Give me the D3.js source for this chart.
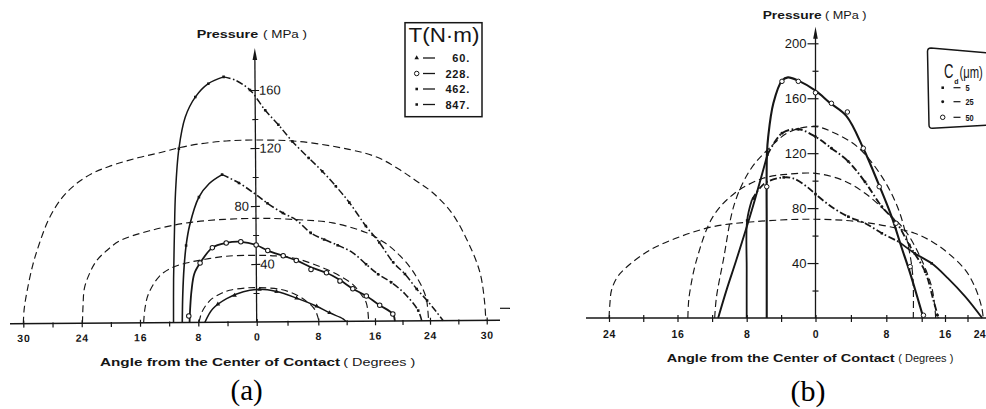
<!DOCTYPE html>
<html>
<head>
<meta charset="utf-8">
<script src="https://cdn.jsdelivr.net/npm/d3@7/dist/d3.min.js"></script>
<style>
  html, body { margin: 0; padding: 0; background: #fff; }
  svg { display: block; }
</style>
</head>
<body>
<svg id="fig" width="986" height="409"></svg>
<script>
// Contact pressure around a pin joint, plotted against the angle from the centre of contact.
// Every case has a dashed analytical profile and a measured profile carrying markers.
// Points are [angle (deg), pressure (MPa)].

// ---------- (a) applied torque T (N·m) ----------
const torqueNames = ["60.", "228.", "462.", "847."];
const angleTicksA = [-30, -24, -16, -8, 0, 8, 16, 24, 30];
const angleMinorA = [-27, -20, -12, -4, 4, 12, 20, 27];
const pressureTicksA = [40, 80, 120, 160];
const pressureMinorA = [20, 60, 100, 140];

const hertzT60 = [[-7.9,0],[-7.5,7],[-6.4,15],[-5,19.5],[-3.7,22],[-1.5,23.5],[0,23.7],[3,22.5],[5,19],[6.5,14],[7.6,8],[8.1,0]];
const hertzT228 = [[-15.5,0],[-15.3,10],[-14.8,20],[-13.3,32],[-11.5,38],[-9.6,41],[-7,43.5],[-4.1,45.5],[0,46],[2.5,45.5],[4.8,44],[7,40.5],[9.2,36],[11.2,31],[12.9,25.5],[14,19],[14.8,12.5],[15.1,0]];
const hertzT462 = [[-23.9,0],[-23.8,12],[-23.6,24],[-22.9,34],[-21.9,43],[-20.5,50],[-18.7,56.6],[-14.6,63.4],[-8.7,69.2],[0,71.5],[5.6,70.3],[10.1,68],[14.8,61.2],[17.5,54],[19.2,47.4],[21,38],[22,31],[23,22],[23.5,15],[23.7,7],[23.8,0]];
const hertzT847 = [[-30,0],[-29.9,10],[-29.6,22],[-29,40],[-28.3,55],[-27.3,72],[-26,86],[-24.5,96],[-22.5,103],[-20.1,108],[-16,114],[-13.3,117],[-10.5,120.5],[-7.8,123],[-4,125],[0,125.5],[5.6,124.3],[12.5,118.6],[16.5,113],[19.6,104.8],[22,97],[24.3,88.8],[26.3,75],[27.9,56.6],[29.3,33.6],[29.8,12],[29.9,0]];

const measT60 = [[-7.1,0],[-6.6,5],[-6,9.4],[-4.1,16.3],[-1.8,20.9],[0.4,22.5],[2.6,20.9],[5.2,16.3],[7.8,10.6],[9.6,6],[11.5,1.8],[11.9,0]];
const markT60 = [[-5.3,12.5],[-3,18.5],[0.4,22.5],[2.6,20.9],[5.2,16.3],[7.8,10.6],[9.6,6]];
const measT228 = [[-9.2,0],[-9.1,10],[-8.9,22],[-8.5,33.6],[-7.7,40.9],[-6,51.5],[-4.1,54.7],[-2.1,55.4],[0,53.1],[1.5,49.2],[3.5,45.5],[5.2,42.3],[7.1,37.5],[9.2,33.6],[11.1,28.5],[12.9,22.5],[14.8,17.4],[16.7,11],[18.6,4.8],[18.9,0]];
const markT228 = [[-9.3,4.5],[-7.7,40.9],[-6,51.5],[-4.1,54.7],[-2.1,55.4],[0,53.1],[1.5,49.2],[3.5,45.5],[5.2,42.3],[7.1,35.9],[9.2,33.6],[11.1,27.8],[12.9,22.5],[14.8,17.4],[16.7,11],[18.6,4.8]];
const measT462 = [[-10.2,0],[-10.1,20],[-9.9,38],[-9.6,53.1],[-9.1,66.9],[-7.8,86.4],[-6.4,95.6],[-4.6,101.8],[-2.3,96],[-0.2,88.7],[1.5,81.8],[3.5,75],[5.2,70.3],[7.1,61.2],[8.9,56.6],[10.8,52.6],[12.9,47.4],[14.8,39.3],[16.5,32.4],[18.4,26.7],[20.4,18.6],[22.3,7.1],[22.8,0]];
const markT462 = [[-9.6,53.1],[-7.8,86.4],[-4.6,101.8],[-2.3,96],[1.5,81.8],[3.5,75],[7.1,61.2],[8.9,56.6],[10.8,52.6],[14.8,39.3],[16.5,32.4],[18.4,26.7],[22.3,7.1]];
const measT847 = [[-11.4,0],[-11.35,30],[-11.2,60],[-11,90],[-10.5,119.8],[-9.6,141.6],[-8.2,155.4],[-6.4,164.6],[-4.3,169.2],[-2.7,166.9],[-0.7,160],[1.3,146],[3,135.9],[4.8,124.3],[6.9,112.9],[8.7,103.7],[10.6,93.3],[12.5,81.9],[14.8,65.7],[16.7,54.3],[18.7,40.5],[20.4,32.4],[22.1,22],[23.6,14],[24.7,6],[25.4,0]];
const markT847 = [[-10.5,119.8],[-8.2,155.4],[-6.4,164.6],[-4.3,169.2],[-0.7,160],[1.3,146],[3,135.9],[4.8,124.3],[6.9,112.9],[8.7,103.7],[10.6,93.3],[12.5,81.9],[14.8,65.7],[16.7,54.3],[18.7,40.5],[20.4,32.4],[22.1,22],[23.6,14]];

// ---------- (b) diametral clearance Cd (µm) ----------
const clearanceNames = ["5", "25", "50"];
const angleTicksB = [-24, -16, -8, 0, 8, 16, 24];
const angleMinorB = [-20, -12, -4, 4, 12, 20];
const pressureTicksB = [40, 80, 120, 160, 200];
const pressureMinorB = [20, 60, 100, 140, 180];

const hertzC5 = [[-24,0],[-23.9,10],[-23.7,20.4],[-23,30],[-21.9,37.3],[-19.2,49.5],[-15.7,59.2],[-11.9,66.5],[-7.2,70.1],[0,71.9],[5.8,69.4],[11.2,61.7],[14,55],[16.6,47.1],[19.6,35],[21.3,22.8],[22.5,8.2],[22.8,0]];
const hertzC25 = [[-14.8,0],[-14.75,9],[-14.6,18],[-13.8,42.2],[-11.9,73.8],[-9.4,90.8],[-6.1,101.7],[-3,104.8],[0,105.3],[3,100.5],[5.6,90.8],[8.2,76.2],[10.1,64],[12,42.2],[13.7,22.8],[14.2,10],[14.4,0]];
const hertzC50 = [[-11.7,0],[-11.5,15],[-10.7,42.2],[-9.4,83.5],[-7.6,107.8],[-5.6,122.3],[-3,135.6],[0,139.3],[2.2,134.5],[4.8,124.3],[7.5,102.9],[9.4,78.6],[10.5,51.9],[11,30.1],[11.05,0]];

const measC5 = [[-8,0],[-8,35],[-7.95,71],[-7.4,85.9],[-6.5,94.4],[-5.6,99.2],[-3.7,102.4],[-2.6,101.7],[-1,95.6],[0,90.2],[1.8,81],[3.7,73.8],[5.6,69],[7.5,61.7],[9.4,55.6],[11.2,47.1],[13.7,39.8],[16.5,29],[19.6,15.5],[22.6,0]];
const markC5 = [[-7.95,71],[-7.2,87],[-3.7,102.4],[0,90.2],[3.7,73.8],[7.5,61.7],[11.2,47.1],[13.7,39.8]];
const measC25 = [[-11.3,0],[-10.3,21],[-9.2,42.2],[-7.4,78.6],[-5.6,118.7],[-3.9,134.5],[-2,137.4],[0,132],[1.8,123.6],[3.7,114],[5.6,99],[7.5,81],[9.2,69],[10.6,53.1],[12.6,33.7],[14,13.1],[14.85,0]];
const markC25 = [[-5.6,118.7],[-3.9,134.5],[-2,137.4],[0,132],[1.8,123.6],[3.7,114],[5.6,99],[7.5,81],[9.2,69],[10.6,53.1],[12.6,33.7],[14.7,2]];
const measC50 = [[-5.67,0],[-5.67,60],[-5.65,119],[-5.5,132],[-4.9,156.3],[-3.9,172.8],[-3.2,175.2],[-2,172.8],[0,165.5],[1.6,156.8],[3.5,147],[5.4,123.6],[7.1,98],[8.6,73.8],[9.7,51.9],[10.7,32.5],[11.6,13.1],[12.3,0]];
const markC50 = [[-5.67,95.6],[-3.9,172.3],[-2,172.3],[0,164],[1.8,156.3],[3.6,150],[5.4,123.6],[7.2,95.6],[9.1,69],[10.7,37.4],[12.3,2]];

// ---------- drawing ----------
const ink = "#161616";
const svg = d3.select("#fig");
const smooth = d3.curveCatmullRom.alpha(0.5);
const SANS = "'Liberation Sans', Arial, Helvetica, sans-serif";
const SERIF = "'Liberation Serif', 'Times New Roman', serif";
const DASHED = "7,4";
const DASHDOT = "7,2.5,1.6,2.5";

const seriesA = [
  { name: torqueNames[0], hertz: hertzT60,  meas: measT60,  marks: markT60,  marker: "triangle", width: 1.5 },
  { name: torqueNames[1], hertz: hertzT228, meas: measT228, marks: markT228, marker: "ring",     width: 1.8 },
  { name: torqueNames[2], hertz: hertzT462, meas: measT462, marks: markT462, marker: "square",   width: 1.6, dashFrom: -4.6 },
  { name: torqueNames[3], hertz: hertzT847, meas: measT847, marks: markT847, marker: "square",   width: 1.5, dashFrom: -4.3 }
];
const seriesB = [
  { name: clearanceNames[0], hertz: hertzC5,  meas: measC5,  marks: markC5,  marker: "square", width: 1.8, dashFrom: -7.4, dashTo: 9.4 },
  { name: clearanceNames[1], hertz: hertzC25, meas: measC25, marks: markC25, marker: "dot",    width: 1.9, dashFrom: -5.6 },
  { name: clearanceNames[2], hertz: hertzC50, meas: measC50, marks: markC50, marker: "ring",   width: 2.1 }
];

function markerPath(kind) {
  if (kind === "triangle") return d3.symbol(d3.symbolTriangle, 9)();
  if (kind === "square") return d3.symbol(d3.symbolSquare, 6.5)();
  if (kind === "dot") return d3.symbol(d3.symbolCircle, 7)();
  return d3.symbol(d3.symbolCircle, 16)();
}

function drawMarker(g, kind, cx, cy) {
  g.append("path")
    .attr("d", markerPath(kind))
    .attr("transform", `translate(${cx},${cy})`)
    .attr("fill", kind === "ring" ? "#fff" : ink)
    .attr("stroke", kind === "ring" ? ink : "none")
    .attr("stroke-width", 1);
}

// split a profile into solid and dash-dot stretches
function pieces(pts, from, to) {
  if (from === undefined) return [{ pts, dashed: false }];
  const i0 = pts.findIndex(d => d[0] >= from);
  const i1 = to === undefined ? pts.length - 1 : pts.findIndex(d => d[0] >= to);
  const out = [];
  if (i0 > 0) out.push({ pts: pts.slice(0, i0 + 1), dashed: false });
  out.push({ pts: pts.slice(i0, i1 + 1), dashed: true });
  if (i1 < pts.length - 1) out.push({ pts: pts.slice(i1), dashed: false });
  return out;
}

function drawCurves(g, x, y, series) {
  const line = d3.line().x(d => x(d[0])).y(d => y(d[1])).curve(smooth);
  series.forEach(s => {
    g.append("path").attr("d", line(s.hertz))
      .attr("fill", "none").attr("stroke", ink).attr("stroke-width", 1.15)
      .attr("stroke-dasharray", DASHED);
  });
  series.forEach(s => {
    pieces(s.meas, s.dashFrom, s.dashTo).forEach(p => {
      g.append("path").attr("d", line(p.pts))
        .attr("fill", "none").attr("stroke", ink).attr("stroke-width", s.width)
        .attr("stroke-linejoin", "round")
        .attr("stroke-dasharray", p.dashed ? DASHDOT : null);
    });
    s.marks.forEach(d => drawMarker(g, s.marker, x(d[0]), y(d[1])));
  });
}

function styleTicks(sel, size, font) {
  sel.select(".domain").remove();
  sel.attr("font-family", null).attr("font-size", null);
  sel.selectAll(".tick line").attr("stroke", ink).attr("stroke-width", 1.2);
  sel.selectAll(".tick text").attr("fill", ink)
    .style("font-family", SANS).style("font-size", size + "px").style("font-weight", font);
}

function arrowUp(g, x0, tip) {
  g.append("path")
    .attr("d", `M${x0},${tip} L${x0 - 2.3},${tip + 12} L${x0 + 2.3},${tip + 12} Z`)
    .attr("fill", ink);
}

function titleRun(g, x, y, str, size, weight, len) {
  return g.append("text").attr("x", x).attr("y", y).text(str)
    .attr("fill", ink).style("font-family", SANS).style("font-size", size + "px")
    .style("font-weight", weight)
    .attr("textLength", len).attr("lengthAdjust", "spacingAndGlyphs");
}

// narrow lettering: squeeze horizontally with a transform
function narrowText(g, x, y, str, size, squeeze, weight) {
  return g.append("text").attr("transform", `translate(${x},${y}) scale(${squeeze},1)`).text(str)
    .attr("fill", ink).style("font-family", SANS).style("font-size", size + "px")
    .style("font-weight", weight || "normal");
}

// ================= panel (a) =================
const xA = d3.scaleLinear().domain(angleTicksA).range([23.3, 81.7, 140, 198.3, 256.7, 318.3, 375, 430, 486.7]);
const yA = d3.scaleLinear().domain([0, 160]).range([322, 90]);
const gA = svg.append("g").attr("transform", `rotate(-0.4 ${xA(0)} ${yA(0)})`);

gA.append("line").attr("x1", 10).attr("x2", 500).attr("y1", yA(0)).attr("y2", yA(0))
  .attr("stroke", ink).attr("stroke-width", 1.6);

gA.append("g").attr("transform", `translate(0,${yA(0)})`)
  .call(d3.axisBottom(xA).tickValues(angleTicksA).tickFormat(d => Math.abs(d))
    .tickSizeInner(4).tickSizeOuter(0).tickPadding(7))
  .call(s => styleTicks(s, 10.5, "bold"))
  .call(s => s.selectAll(".tick line").attr("y1", -3))
  .call(s => s.selectAll(".tick text").style("letter-spacing", "0.8px"));

gA.append("g").attr("transform", `translate(0,${yA(0)})`)
  .call(d3.axisBottom(xA).tickValues(angleMinorA).tickFormat("").tickSizeInner(4).tickSizeOuter(0))
  .call(s => styleTicks(s, 10, "normal"))
  .call(s => s.selectAll(".tick line").attr("y1", -1));

// vertical pressure axis
const tipA = 48;
gA.append("line").attr("x1", xA(0)).attr("x2", xA(0)).attr("y1", yA(0)).attr("y2", tipA + 6)
  .attr("stroke", ink).attr("stroke-width", 1.3);
arrowUp(gA, xA(0), tipA);

gA.append("g").attr("transform", `translate(${xA(0)},0)`)
  .call(d3.axisRight(yA).tickValues(pressureTicksA).tickSizeInner(4).tickSizeOuter(0).tickPadding(0))
  .call(s => styleTicks(s, 13, "normal"))
  .call(s => s.selectAll(".tick line").attr("x1", -5))
  .call(s => s.selectAll(".tick text").filter(d => d === 80).attr("x", -7).attr("text-anchor", "end"));

gA.append("g").attr("transform", `translate(${xA(0)},0)`)
  .call(d3.axisRight(yA).tickValues(pressureMinorA).tickFormat("").tickSizeInner(3).tickSizeOuter(0))
  .call(s => styleTicks(s, 10, "normal"))
  .call(s => s.selectAll(".tick line").attr("x1", -3));

drawCurves(gA, xA, yA, seriesA);

// titles (a)
titleRun(svg, 196.7, 38.3, "Pressure", 10.8, "bold", 61.5);
titleRun(svg, 263, 38.3, "( MPa )", 10, "normal", 44);
titleRun(svg, 100, 365.5, "Angle from the Center of Contact", 10.8, "bold", 240);
titleRun(svg, 343.3, 365.5, "( Degrees )", 10, "normal", 72);
svg.append("text").attr("x", 246.7).attr("y", 400).attr("text-anchor", "middle").text("(a)")
  .attr("fill", "#000").style("font-family", SERIF).style("font-size", "29px");

// legend (a)
const legA = svg.append("g");
legA.append("rect").attr("x", 405).attr("y", 22.7).attr("width", 77).attr("height", 94)
  .attr("fill", "none").attr("stroke", ink).attr("stroke-width", 1.5);
titleRun(legA, 408.5, 41.5, "T(N·m)", 20, "normal", 71);
seriesA.forEach((s, i) => {
  const ly = 58 + i * 15.5;
  drawMarker(legA, s.marker, 416.7, ly);
  legA.append("line").attr("x1", 423).attr("x2", 435).attr("y1", ly).attr("y2", ly)
    .attr("stroke", ink).attr("stroke-width", 1.3);
  legA.append("text").attr("x", 470).attr("y", ly + 4).attr("text-anchor", "end").text(s.name)
    .attr("fill", ink).style("font-family", SANS).style("font-size", "11px").style("font-weight", "bold")
    .style("letter-spacing", "0.8px");
});

// ================= panel (b) =================
const xB = d3.scaleLinear().domain([-24, -16, -8, 0, 8, 12, 16, 24]).range([609, 677.5, 746.7, 815.5, 886.3, 921.7, 945, 990]);
const yB = d3.scaleLinear().domain([0, 200]).range([318, 43.3]);
const gB = svg.append("g");

gB.append("line").attr("x1", 586).attr("x2", 986).attr("y1", yB(0)).attr("y2", yB(0))
  .attr("stroke", ink).attr("stroke-width", 1.6);

gB.append("g").attr("transform", `translate(0,${yB(0)})`)
  .call(d3.axisBottom(xB).tickValues(angleTicksB).tickFormat(d => Math.abs(d))
    .tickSizeInner(4).tickSizeOuter(0).tickPadding(9))
  .call(s => styleTicks(s, 10.5, "bold"))
  .call(s => s.selectAll(".tick line").attr("y1", -3))
  .call(s => s.selectAll(".tick text").style("letter-spacing", "0.6px"))
  // the last label sits against the page edge
  .call(s => s.selectAll(".tick text").filter(d => d === 24)
    .attr("text-anchor", "end").attr("x", -5).style("letter-spacing", "0px"));

gB.append("g").attr("transform", `translate(0,${yB(0)})`)
  .call(d3.axisBottom(xB).tickValues(angleMinorB).tickFormat("").tickSizeInner(4).tickSizeOuter(0))
  .call(s => styleTicks(s, 10, "normal"))
  .call(s => s.selectAll(".tick line").attr("y1", -3));

const tipB = 26.7;
gB.append("line").attr("x1", xB(0)).attr("x2", xB(0)).attr("y1", yB(0)).attr("y2", tipB + 6)
  .attr("stroke", ink).attr("stroke-width", 1.3);
arrowUp(gB, xB(0), tipB);

gB.append("g").attr("transform", `translate(${xB(0)},0)`)
  .call(d3.axisLeft(yB).tickValues(pressureTicksB).tickSizeInner(8).tickSizeOuter(0).tickPadding(1))
  .call(s => styleTicks(s, 13, "normal"))
  .call(s => s.selectAll(".tick line").attr("x1", 3));

gB.append("g").attr("transform", `translate(${xB(0)},0)`)
  .call(d3.axisLeft(yB).tickValues(pressureMinorB).tickFormat("").tickSizeInner(3).tickSizeOuter(0))
  .call(s => styleTicks(s, 10, "normal"))
  .call(s => s.selectAll(".tick line").attr("x1", 3));

drawCurves(gB, xB, yB, seriesB);

// titles (b)
titleRun(svg, 762.7, 19.3, "Pressure", 10.8, "bold", 59);
titleRun(svg, 825, 19.3, "( MPa )", 10, "normal", 41.5);
titleRun(svg, 666.7, 362, "Angle from the Center of Contact", 10.8, "bold", 228);
titleRun(svg, 898.3, 362, "( Degrees )", 10, "normal", 55);
svg.append("text").attr("x", 808).attr("y", 401).attr("text-anchor", "middle").text("(b)")
  .attr("fill", "#000").style("font-family", SERIF).style("font-size", "30px");

// legend (b): its frame runs off the right edge
const legB = svg.append("g");
legB.append("path").attr("d", "M990,53 L931,48 Q927.5,48 927.5,51.5 L929,125 Q929,128.5 932.5,128.3 L990,125")
  .attr("fill", "none").attr("stroke", ink).attr("stroke-width", 1.5);
narrowText(legB, 944, 78.3, "C", 21, 0.62);
narrowText(legB, 954.3, 84, "d", 7, 1, "bold");
narrowText(legB, 959.5, 77.5, "(μm)", 17, 0.66);
seriesB.forEach((s, i) => {
  const ly = [87.7, 101.7, 117.3][i];
  drawMarker(legB, s.marker, 942.7, ly);
  legB.append("line").attr("x1", 953.5).attr("x2", 960.5).attr("y1", ly).attr("y2", ly)
    .attr("stroke", ink).attr("stroke-width", 1.2);
  narrowText(legB, 965.5, ly + 3.5, s.name, 9.5, 0.78, "bold");
});

// short stray rule between the panels
svg.append("line").attr("x1", 500).attr("x2", 510).attr("y1", 308.3).attr("y2", 308.3)
  .attr("stroke", ink).attr("stroke-width", 1.2);
</script>
</body>
</html>
